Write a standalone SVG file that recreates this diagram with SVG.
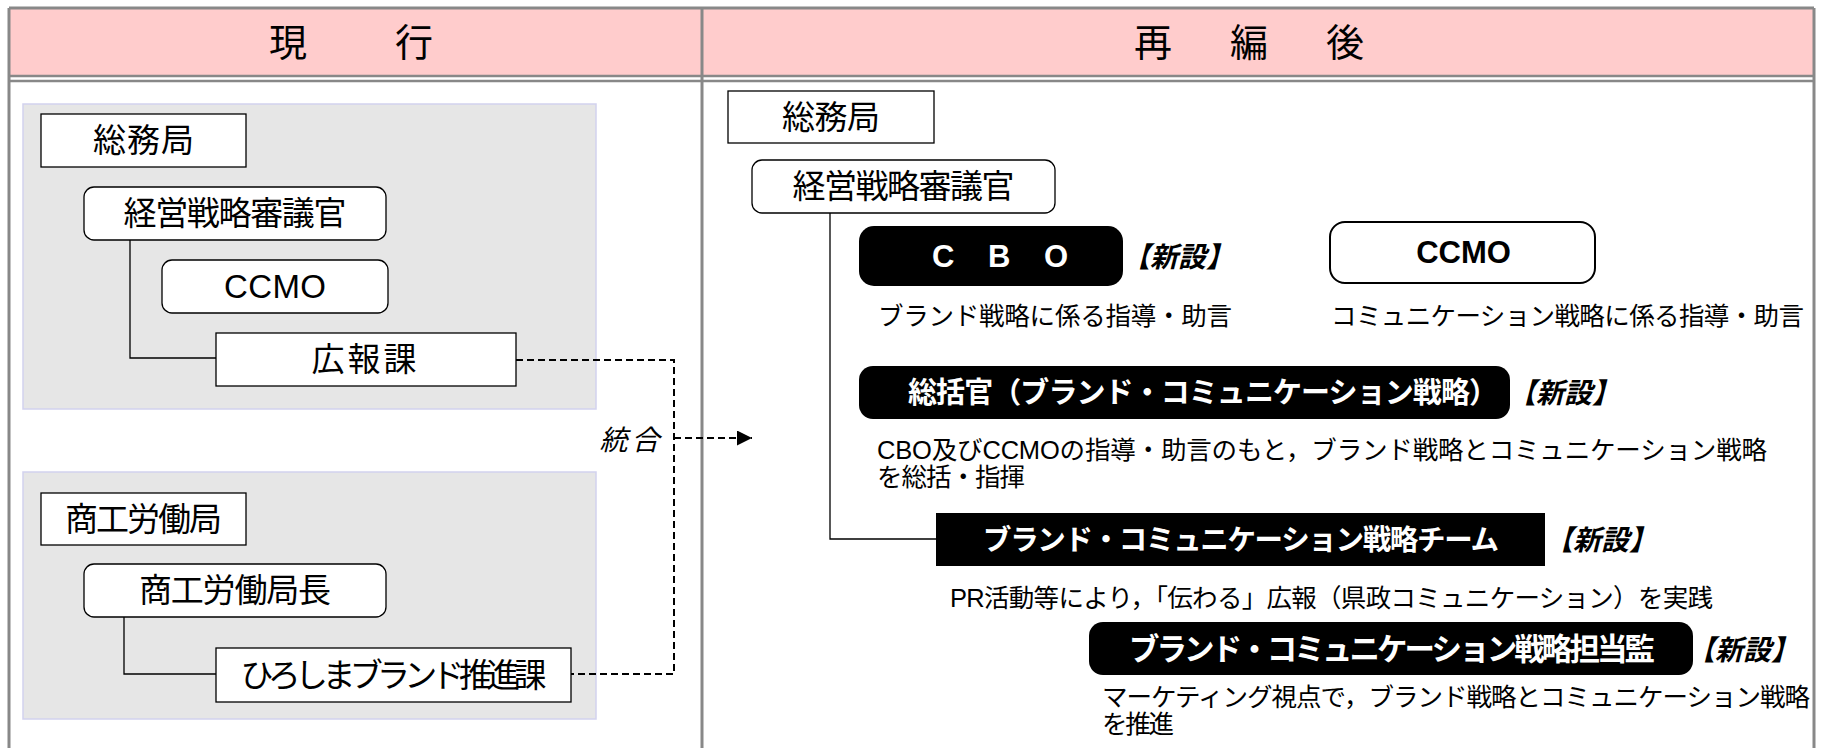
<svg xmlns="http://www.w3.org/2000/svg" width="1823" height="748" viewBox="0 0 1823 748">
<defs>
<style>
text{font-family:"Liberation Sans","Noto Sans CJK JP",sans-serif;fill:#000}
.hdr{font-size:38px;text-anchor:middle;dominant-baseline:central}
.lbl{font-size:33px;text-anchor:middle;dominant-baseline:central}
.wb{fill:#fff;font-weight:bold;text-anchor:middle;dominant-baseline:central}
.new{font-size:28px;font-weight:bold;font-style:italic;dominant-baseline:central}
.desc{font-size:25.5px;dominant-baseline:central}
.box{fill:#fff;stroke:#000;stroke-width:1.3}
.blk{fill:#000}
.grp{fill:#e6e6e6;stroke:#d2d2ee;stroke-width:1.5}
.rule{stroke:#888;stroke-width:3;fill:none}
.ln{stroke:#000;stroke-width:1.3;fill:none}
.dash{stroke:#000;stroke-width:2;fill:none;stroke-dasharray:7 4}
</style>
<marker id="arr" viewBox="0 0 15 15" refX="15" refY="7.5" markerWidth="15" markerHeight="15" markerUnits="userSpaceOnUse" orient="auto">
<path d="M0,0 L15,7.5 L0,15 z" fill="#000"/>
</marker>
</defs>

<g id="table">
<rect x="9" y="8" width="1805" height="68" fill="#ffcccc"/>
<path class="rule" d="M9,8 H1814 M9,8 V748 M1814,8 V748 M702,8 V748"/>
<path d="M9,76 H1814 M9,81 H1814" stroke="#888" stroke-width="2.5" fill="none"/>
<text class="hdr" x="351" y="43" textLength="164" lengthAdjust="spacing">現　　行</text>
<text class="hdr" x="1249" y="43" textLength="230" lengthAdjust="spacing">再　編　後</text>
</g>

<g id="group-soumu-current"><rect class="grp" x="23" y="104" width="573" height="305"/></g>
<g id="group-shoko-current"><rect class="grp" x="23" y="472" width="573" height="247"/></g>

<g id="connectors">
<path class="ln" d="M130,240 V358 H216"/>
<path class="ln" d="M124,617 V674 H216"/>
<path class="ln" d="M830,213 V539 H936"/>
<path class="dash" d="M516,360 H674 V674 H571"/>
<path class="dash" d="M674,438 H752" marker-end="url(#arr)"/>
<text x="629.5" y="440" font-size="28" font-style="italic" text-anchor="middle" dominant-baseline="central" textLength="60" lengthAdjust="spacing">統合</text>
</g>

<g id="n-l-soumu"><rect class="box" x="41" y="114" width="205" height="53"/><text class="lbl" x="143.5" y="140.5" textLength="101">総務局</text></g>
<g id="n-l-keiei"><rect class="box" x="84" y="187" width="302" height="53" rx="10"/><text class="lbl" x="235" y="213.5" textLength="223">経営戦略審議官</text></g>
<g id="n-l-ccmo"><rect class="box" x="162" y="260" width="226" height="53" rx="10"/><text class="lbl" x="275" y="286.5" font-size="31" textLength="102">CCMO</text></g>
<g id="n-l-kouhou"><rect class="box" x="216" y="333" width="300" height="53"/><text class="lbl" x="364" y="359.5" textLength="105">広報課</text></g>
<g id="n-l-shoko"><rect class="box" x="41" y="493" width="205" height="52"/><text class="lbl" x="143.5" y="519" textLength="157">商工労働局</text></g>
<g id="n-l-shokocho"><rect class="box" x="84" y="564" width="302" height="53" rx="10"/><text class="lbl" x="235" y="590.5" textLength="192">商工労働局長</text></g>
<g id="n-l-hiroshima"><rect class="box" x="216" y="648" width="355" height="54"/><text class="lbl" x="393.5" y="675" textLength="306">ひろしまブランド推進課</text></g>

<g id="n-r-soumu"><rect class="box" x="728" y="91" width="206" height="52"/><text class="lbl" x="831" y="117" textLength="98">総務局</text></g>
<g id="n-r-keiei"><rect class="box" x="752" y="160" width="303" height="53" rx="10"/><text class="lbl" x="903.5" y="186.5" textLength="222">経営戦略審議官</text></g>

<g id="n-cbo">
<rect class="blk" x="859" y="226" width="264" height="60" rx="15"/>
<text class="wb" x="1000" y="256" font-size="31" textLength="136" lengthAdjust="spacing">C　B　O</text>
<text class="new" x="1122" y="257">【新設】</text>
<text class="desc" x="878" y="316" textLength="354">ブランド戦略に係る指導・助言</text>
</g>

<g id="n-r-ccmo">
<rect x="1330" y="222" width="265" height="61" rx="15" fill="#fff" stroke="#000" stroke-width="2"/>
<text x="1463.5" y="252.5" font-size="31" font-weight="bold" text-anchor="middle" dominant-baseline="central">CCMO</text>
<text class="desc" x="1331" y="316" textLength="473">コミュニケーション戦略に係る指導・助言</text>
</g>

<g id="n-soukatsu">
<rect class="blk" x="859" y="366" width="651" height="53" rx="14"/>
<text class="wb" x="1203" y="392.5" font-size="29" textLength="590">総括官（ブランド・コミュニケーション戦略）</text>
<text class="new" x="1508" y="393">【新設】</text>
<text class="desc" x="877" y="450" textLength="890">CBO及びCCMOの指導・助言のもと，ブランド戦略とコミュニケーション戦略</text>
<text class="desc" x="877" y="477" textLength="148">を総括・指揮</text>
</g>

<g id="n-team">
<rect class="blk" x="936" y="513" width="609" height="53"/>
<text class="wb" x="1241" y="539.5" font-size="28.5" textLength="516">ブランド・コミュニケーション戦略チーム</text>
<text class="new" x="1545" y="540">【新設】</text>
<text class="desc" x="950" y="598" textLength="763">PR活動等により，「伝わる」広報（県政コミュニケーション）を実践</text>
</g>

<g id="n-tanto">
<rect class="blk" x="1089" y="622" width="604" height="53" rx="14"/>
<text class="wb" x="1392" y="648.5" font-size="30.5" textLength="526">ブランド・コミュニケーション戦略担当監</text>
<text class="new" x="1687" y="650">【新設】</text>
<text class="desc" x="1102" y="697" textLength="708">マーケティング視点で，ブランド戦略とコミュニケーション戦略</text>
<text class="desc" x="1102" y="724" textLength="72">を推進</text>
</g>
</svg>
